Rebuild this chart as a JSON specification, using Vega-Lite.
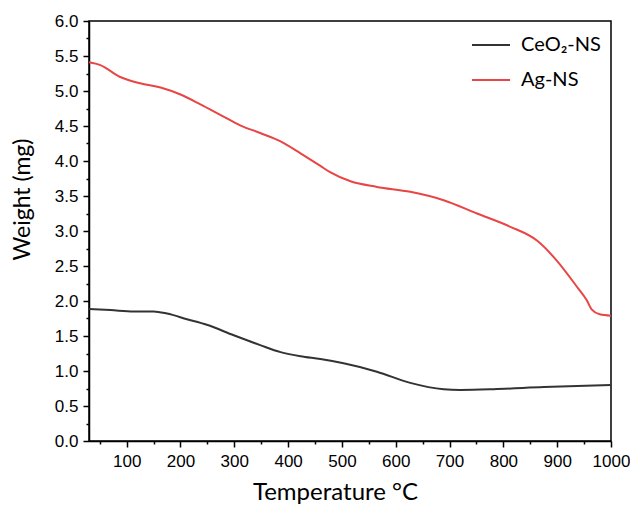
{
  "$schema": "https://vega.github.io/schema/vega-lite/v6.json",
  "autosize": {"type": "none"},
  "width": 522,
  "height": 420,
  "padding": {"left": 89, "top": 21, "right": 19, "bottom": 65},
  "background": "white",
  "config": {
    "view": {"stroke": "black", "strokeWidth": 1.5},
    "axis": {"grid": false, "domainColor": "black", "domainWidth": 1.5, "tickColor": "black", "tickWidth": 1.5, "labelColor": "black", "titleColor": "black"}
  },
  "data": {"values": [
    {"T": 30, "w": 1.886, "s": "CeO₂-NS"},
    {"T": 70, "w": 1.87, "s": "CeO₂-NS"},
    {"T": 113, "w": 1.85, "s": "CeO₂-NS"},
    {"T": 150, "w": 1.85, "s": "CeO₂-NS"},
    {"T": 175, "w": 1.82, "s": "CeO₂-NS"},
    {"T": 212, "w": 1.74, "s": "CeO₂-NS"},
    {"T": 249, "w": 1.66, "s": "CeO₂-NS"},
    {"T": 299, "w": 1.51, "s": "CeO₂-NS"},
    {"T": 348, "w": 1.37, "s": "CeO₂-NS"},
    {"T": 386, "w": 1.27, "s": "CeO₂-NS"},
    {"T": 423, "w": 1.21, "s": "CeO₂-NS"},
    {"T": 460, "w": 1.17, "s": "CeO₂-NS"},
    {"T": 503, "w": 1.11, "s": "CeO₂-NS"},
    {"T": 565, "w": 0.99, "s": "CeO₂-NS"},
    {"T": 627, "w": 0.83, "s": "CeO₂-NS"},
    {"T": 689, "w": 0.74, "s": "CeO₂-NS"},
    {"T": 720, "w": 0.73, "s": "CeO₂-NS"},
    {"T": 782, "w": 0.74, "s": "CeO₂-NS"},
    {"T": 875, "w": 0.77, "s": "CeO₂-NS"},
    {"T": 1000, "w": 0.80, "s": "CeO₂-NS"},
    {"T": 30, "w": 5.41, "s": "Ag-NS"},
    {"T": 51, "w": 5.37, "s": "Ag-NS"},
    {"T": 88, "w": 5.20, "s": "Ag-NS"},
    {"T": 125, "w": 5.11, "s": "Ag-NS"},
    {"T": 163, "w": 5.05, "s": "Ag-NS"},
    {"T": 200, "w": 4.95, "s": "Ag-NS"},
    {"T": 237, "w": 4.81, "s": "Ag-NS"},
    {"T": 274, "w": 4.66, "s": "Ag-NS"},
    {"T": 311, "w": 4.51, "s": "Ag-NS"},
    {"T": 348, "w": 4.40, "s": "Ag-NS"},
    {"T": 386, "w": 4.28, "s": "Ag-NS"},
    {"T": 423, "w": 4.11, "s": "Ag-NS"},
    {"T": 460, "w": 3.93, "s": "Ag-NS"},
    {"T": 478, "w": 3.84, "s": "Ag-NS"},
    {"T": 516, "w": 3.71, "s": "Ag-NS"},
    {"T": 565, "w": 3.63, "s": "Ag-NS"},
    {"T": 627, "w": 3.56, "s": "Ag-NS"},
    {"T": 689, "w": 3.44, "s": "Ag-NS"},
    {"T": 751, "w": 3.25, "s": "Ag-NS"},
    {"T": 813, "w": 3.06, "s": "Ag-NS"},
    {"T": 863, "w": 2.86, "s": "Ag-NS"},
    {"T": 900, "w": 2.57, "s": "Ag-NS"},
    {"T": 937, "w": 2.20, "s": "Ag-NS"},
    {"T": 955, "w": 2.01, "s": "Ag-NS"},
    {"T": 964, "w": 1.88, "s": "Ag-NS"},
    {"T": 979, "w": 1.81, "s": "Ag-NS"},
    {"T": 1000, "w": 1.79, "s": "Ag-NS"}
  ]},
  "layer": [
    {
      "mark": {"type": "line", "strokeWidth": 2, "interpolate": "monotone"},
      "encoding": {
        "x": {"field": "T", "type": "quantitative", "scale": {"domain": [30, 1000], "nice": false, "zero": false},
          "axis": {"orient": "bottom", "values": [100,200,300,400,500,600,700,800,900,1000], "format": "d", "tickSize": 6, "labelFont": "Liberation Sans", "labelFontSize": 17, "labelPadding": 6, "labelFlush": false, "labelOverlap": false, "title": "Temperature °C", "titleFont": "Lato", "titleFontSize": 24, "titleFontWeight": "normal", "titleX": 246, "titleY": 58, "titleBaseline": "alphabetic", "titleAlign": "center"}},
        "y": {"field": "w", "type": "quantitative", "scale": {"domain": [0, 6], "nice": false},
          "axis": {"orient": "left", "values": [0,0.5,1,1.5,2,2.5,3,3.5,4,4.5,5,5.5,6], "format": ".1f", "tickSize": 6, "labelFont": "Liberation Sans", "labelFontSize": 17, "labelPadding": 5, "labelFlush": false, "labelOverlap": false, "title": "Weight (mg)", "titleFont": "Lato", "titleFontSize": 23, "titleFontWeight": "normal", "titleX": -60, "titleY": 178, "titleAlign": "center", "titleBaseline": "alphabetic"}},
        "color": {"field": "s", "type": "nominal", "sort": ["CeO₂-NS", "Ag-NS"],
          "scale": {"domain": ["CeO₂-NS", "Ag-NS"], "range": ["#333333", "#e84545"]},
          "legend": {"title": null, "orient": "none", "legendX": 382, "legendY": 4, "padding": 0, "symbolType": "stroke", "symbolSize": 1444, "symbolStrokeWidth": 2, "labelFont": "Lato", "labelFontSize": 20, "labelColor": "black", "labelOffset": 10, "rowPadding": 5}}
      }
    },
    {
      "mark": {"type": "line", "strokeOpacity": 0},
      "encoding": {
        "x": {"field": "T", "type": "quantitative", "axis": {"orient": "bottom", "values": [50,150,250,350,450,550,650,750,850,950], "tickSize": 3, "labels": false, "domain": false, "title": null}},
        "y": {"field": "w", "type": "quantitative", "axis": {"orient": "left", "values": [0.25,0.75,1.25,1.75,2.25,2.75,3.25,3.75,4.25,4.75,5.25,5.75], "tickSize": 3, "labels": false, "domain": false, "title": null}},
        "detail": {"field": "s", "type": "nominal"}
      }
    }
  ],
  "resolve": {"axis": {"x": "independent", "y": "independent"}}
}
